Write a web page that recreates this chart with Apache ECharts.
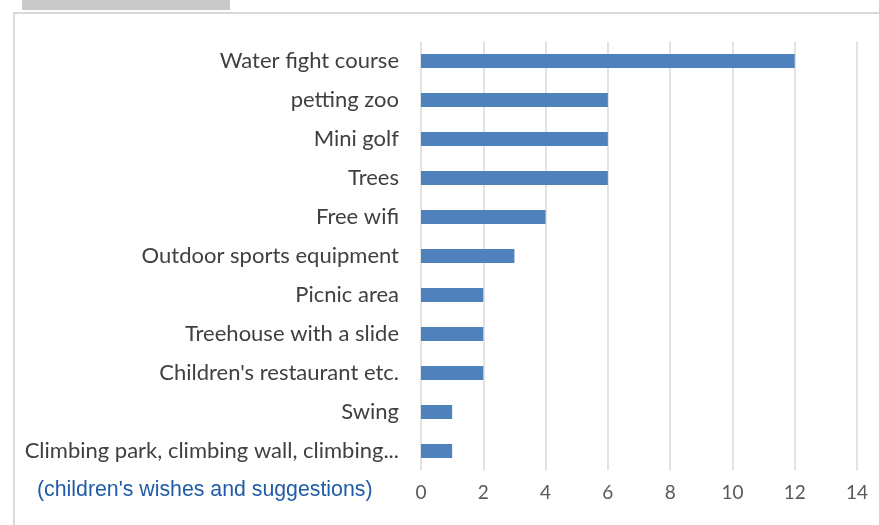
<!DOCTYPE html>
<html>
<head>
<meta charset="utf-8">
<script src="https://cdn.jsdelivr.net/npm/echarts@6/dist/echarts.min.js"></script>
<style>
  html, body { margin: 0; padding: 0; background: #fff; }
  #chart { width: 879px; height: 525px; }
</style>
</head>
<body>
<div id="chart"></div>
<script>
// categories from top to bottom
const categories = [
  'Water fight course',
  'petting zoo',
  'Mini golf',
  'Trees',
  'Free wifi',
  'Outdoor sports equipment',
  'Picnic area',
  'Treehouse with a slide',
  "Children's restaurant etc.",
  'Swing',
  'Climbing park, climbing wall, climbing...'
]
const values = [12, 6, 6, 6, 4, 3, 2, 2, 2, 1, 1]
const note = "(children's wishes and suggestions)"

let myChart = echarts.init(document.getElementById('chart'))

let options = {
  animation: false,
  grid: { left: 421, right: 22, top: 41.5, bottom: 54.5 },
  xAxis: {
    type: 'value',
    min: 0,
    max: 14,
    interval: 2,
    axisLine: { show: false },
    axisTick: { show: false },
    axisLabel: { color: '#595959', fontSize: 19, fontFamily: 'Lato', margin: 13 },
    splitLine: { lineStyle: { color: '#d9d9d9', width: 1.5 } }
  },
  yAxis: {
    type: 'category',
    inverse: true,
    data: categories,
    axisLine: { show: false },
    axisTick: { show: false },
    axisLabel: { color: '#404040', fontSize: 22, fontFamily: 'Lato', margin: 22 }
  },
  series: [
    {
      type: 'bar',
      data: values,
      barWidth: 14,
      itemStyle: { color: '#4f81bd' }
    }
  ],
  graphic: [
    // grey strip of the photo above the chart
    { type: 'rect', shape: { x: 22, y: 0, width: 208, height: 10 }, style: { fill: '#c9c9c9' } },
    // chart frame
    { type: 'rect', shape: { x: 14, y: 13, width: 900, height: 560 }, style: { fill: 'none', stroke: '#d9d9d9', lineWidth: 2 } },
    { type: 'text', left: 37, top: 480, style: { text: note, fill: '#1f5ba6', fontSize: 21.3, fontFamily: 'Liberation Sans' } }
  ]
}
myChart.setOption(options)
</script>
</body>
</html>
